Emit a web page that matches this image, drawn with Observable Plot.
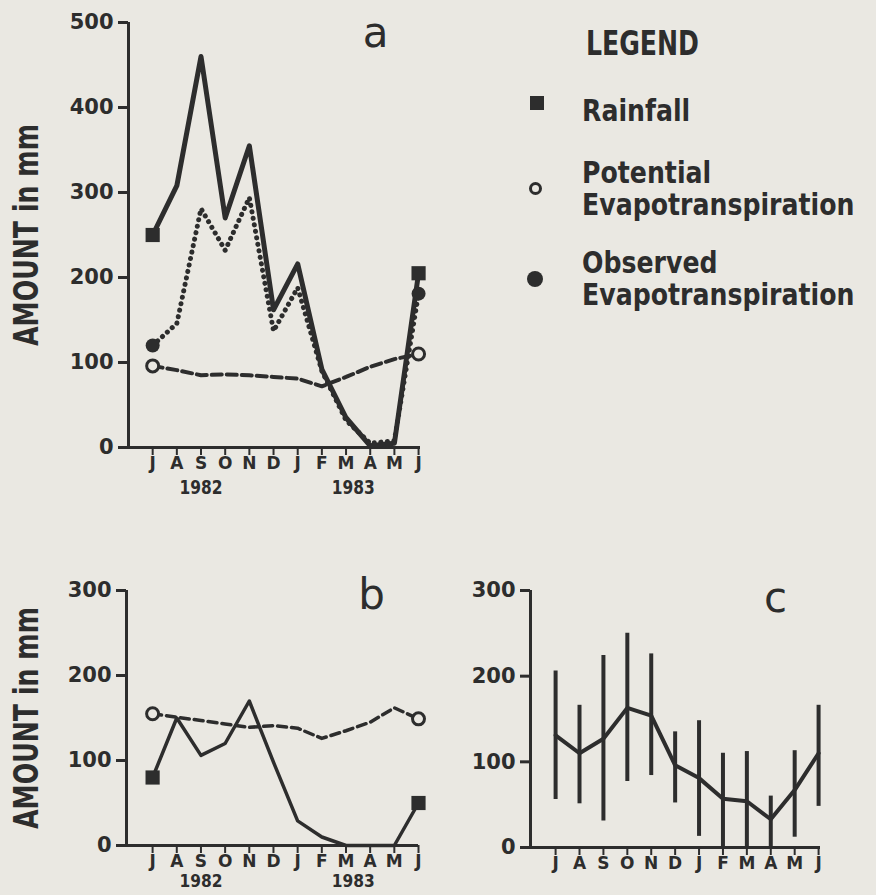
<!DOCTYPE html>
<html><head><meta charset="utf-8">
<script src="https://cdn.jsdelivr.net/npm/d3@7"></script>
<script src="https://cdn.jsdelivr.net/npm/@observablehq/plot@0.6"></script>
<style>
html,body{margin:0;padding:0;background:#eae8e2;}
#page{position:relative;width:876px;height:895px;overflow:hidden;background:#eae8e2;}
.panel{position:absolute;}
.lg{position:absolute;font-family:"DejaVu Sans",sans-serif;font-weight:700;color:#2d2d2d;font-size:30px;line-height:32px;white-space:nowrap;transform-origin:left top;transform:scaleX(0.84);}
.mk{position:absolute;box-sizing:border-box;}
</style></head>
<body><div id="page"></div>
<script>
// ---- data ----
const months = ["J","A","S","O","N","D","J","F","M","A","M","J"];
const idx = d3.range(12);
const yearLabels = ["1982","1983"];
const yearPos = [2, 8.3];
const endPoints = [0, 11];
// panel a
const rainA = [250, 308, 460, 270, 355, 162, 216, 92, 35, 2, 5, 205];
const petA  = [96, 91, 85, 86, 85, 83, 81, 72, 83, 95, 104, 110];
const oetA  = [120, 146, 281, 232, 294, 137, 188, 90, 32, 5, 8, 181];
// panel b
const rainB = [80, 150, 106, 120, 170, 98, 29, 10, 0, 0, 0, 50];
const petB  = [155, 151, 147, 143, 139, 141, 138, 126, 135, 145, 162, 149];
// panel c
const meanC = [131, 110, 127, 163, 154, 96, 81, 57, 54, 33, 67, 110];
const lowC  = [56, 51, 31, 77, 84, 52, 13, 0, 0, 0, 12, 48];
const highC = [206, 166, 224, 250, 226, 135, 148, 110, 112, 60, 113, 166];
const yTicksA = [0, 100, 200, 300, 400, 500];
const yTicksBC = [0, 100, 200, 300];
const yLabel = "AMOUNT in mm";
const legendTitle = "LEGEND";
const legendItems = [
  {lines: ["Rainfall"], marker: "square"},
  {lines: ["Potential", "Evapotranspiration"], marker: "open"},
  {lines: ["Observed", "Evapotranspiration"], marker: "filled"}
];

const ink = "#2d2d2d";
const bg = "#eae8e2";
const page = document.getElementById("page");
const tickFont = {fontFamily: "DejaVu Sans", fontWeight: "bold"};

function place(svg, left, top) {
  svg.classList.add("panel");
  svg.style.left = left + "px";
  svg.style.top = top + "px";
  page.appendChild(svg);
  d3.select(svg).selectAll('g[aria-label="y-axis label"] text')
    .attr("textLength", 222).attr("lengthAdjust", "spacingAndGlyphs");
  d3.select(svg).selectAll("text")
    .filter(function () { return yearLabels.includes(this.textContent); })
    .attr("textLength", 43).attr("lengthAdjust", "spacingAndGlyphs");
}

function axes(yTicks, yearPadding, yearSize, labelOffset, withLabel) {
  return [
    Plot.ruleY([0], {stroke: ink, strokeWidth: 3}),
    Plot.axisY(yTicks, {tickSize: 10, tickPadding: 5, fontSize: 21, ...tickFont, strokeWidth: 3, label: null}),
    withLabel ? Plot.axisY([], {label: yLabel, labelAnchor: "center", labelArrow: "none", labelOffset, fontSize: 34, fontFamily: "DejaVu Sans", fontWeight: "bold"}) : null,
    Plot.axisX(idx, {tickSize: 8, tickPadding: 1, strokeWidth: 2, fontSize: 17, ...tickFont, tickFormat: i => months[i], label: null}),
    yearPadding ? Plot.axisX(yearPos, {tickSize: 0, tickPadding: yearPadding, fontSize: yearSize, ...tickFont, tickFormat: d => yearLabels[yearPos.indexOf(d)], label: null}) : null
  ];
}

// ---- panel a ----
const xDomA = [-1, 11.08];
const plotA = Plot.plot({
  width: 440, height: 510,
  marginLeft: 128, marginRight: 20, marginTop: 22, marginBottom: 63,
  style: {background: "transparent", color: ink, overflow: "visible"},
  x: {domain: xDomA},
  y: {domain: [0, 500]},
  marks: [
    ...axes(yTicksA, 33, 19, 115, true),
    Plot.ruleX([xDomA[0]], {stroke: ink, strokeWidth: 3}),
    Plot.line(idx, {x: i => i, y: i => petA[i], stroke: ink, strokeWidth: 4, strokeDasharray: "10,5"}),
    Plot.line(idx, {x: i => i, y: i => oetA[i], stroke: ink, strokeWidth: 5, strokeDasharray: "0.1,6.5", strokeLinecap: "round"}),
    Plot.line(idx, {x: i => i, y: i => rainA[i], stroke: ink, strokeWidth: 5}),
    Plot.dot(endPoints, {x: i => i, y: i => rainA[i], symbol: "square", fill: ink, r: 8}),
    Plot.dot(endPoints, {x: i => i, y: i => oetA[i], fill: ink, r: 7}),
    Plot.dot(endPoints, {x: i => i, y: i => petA[i], fill: bg, stroke: ink, strokeWidth: 3, r: 6}),
    Plot.text(["a"], {frameAnchor: "top-right", textAnchor: "middle", lineAnchor: "middle", dx: -45, dy: 11, fontSize: 42, fontFamily: "DejaVu Sans", fill: ink})
  ]
});
place(plotA, 0, 0);

// ---- panel b ----
const xDomB = [-1.08, 11.0];
const plotB = Plot.plot({
  width: 440, height: 325,
  marginLeft: 126, marginRight: 22, marginTop: 20, marginBottom: 50,
  style: {background: "transparent", color: ink, overflow: "visible"},
  x: {domain: xDomB},
  y: {domain: [0, 300]},
  marks: [
    ...axes(yTicksBC, 29, 17, 113, true),
    Plot.ruleX([xDomB[0]], {stroke: ink, strokeWidth: 3}),
    Plot.line(idx, {x: i => i, y: i => petB[i], stroke: ink, strokeWidth: 3.5, strokeDasharray: "9,5"}),
    Plot.line(idx, {x: i => i, y: i => rainB[i], stroke: ink, strokeWidth: 3.5}),
    Plot.dot(endPoints, {x: i => i, y: i => rainB[i], symbol: "square", fill: ink, r: 8}),
    Plot.dot(endPoints, {x: i => i, y: i => petB[i], fill: bg, stroke: ink, strokeWidth: 3, r: 6}),
    Plot.text(["b"], {frameAnchor: "top-right", textAnchor: "middle", lineAnchor: "middle", dx: -47, dy: 5, fontSize: 42, fontFamily: "DejaVu Sans", fill: ink})
  ]
});
place(plotB, 0, 570);

// ---- panel c ----
const xDomC = [-1.05, 11.08];
const plotC = Plot.plot({
  width: 436, height: 325,
  marginLeft: 90, marginRight: 56, marginTop: 20, marginBottom: 48,
  style: {background: "transparent", color: ink, overflow: "visible"},
  x: {domain: xDomC},
  y: {domain: [0, 300]},
  marks: [
    ...axes(yTicksBC, 0, 0, 0, false),
    Plot.ruleX([xDomC[0]], {stroke: ink, strokeWidth: 3}),
    Plot.ruleX(idx, {x: i => i, y1: i => lowC[i], y2: i => highC[i], stroke: ink, strokeWidth: 4}),
    Plot.line(idx, {x: i => i, y: i => meanC[i], stroke: ink, strokeWidth: 4}),
    Plot.text(["c"], {frameAnchor: "top-right", textAnchor: "middle", lineAnchor: "middle", dx: -45, dy: 8, fontSize: 42, fontFamily: "DejaVu Sans", fill: ink})
  ]
});
place(plotC, 440, 570);

// ---- legend ----
const lg = document.createElement("div");
lg.className = "lg";
Object.assign(lg.style, {left: "586px", top: "26px", fontSize: "34px", lineHeight: "34px", transform: "scaleX(0.74)"});
lg.textContent = legendTitle;
page.appendChild(lg);
const rowTop = [95, 157, 247];
const markerY = [103, 188, 279];
legendItems.forEach((it, k) => {
  const t = document.createElement("div");
  t.className = "lg";
  t.style.left = "582px";
  t.style.top = rowTop[k] + "px";
  t.innerHTML = it.lines.join("<br>");
  page.appendChild(t);
  const m = document.createElement("div");
  m.className = "mk";
  if (it.marker === "square") {
    Object.assign(m.style, {left: "530px", top: (markerY[k] - 7) + "px", width: "14px", height: "14px", background: ink});
  } else if (it.marker === "open") {
    Object.assign(m.style, {left: "529px", top: (markerY[k] - 6) + "px", width: "13px", height: "13px", border: "3px solid " + ink, borderRadius: "50%"});
  } else {
    Object.assign(m.style, {left: "527px", top: (markerY[k] - 8) + "px", width: "16px", height: "16px", background: ink, borderRadius: "50%"});
  }
  page.appendChild(m);
});
</script>
</body></html>
